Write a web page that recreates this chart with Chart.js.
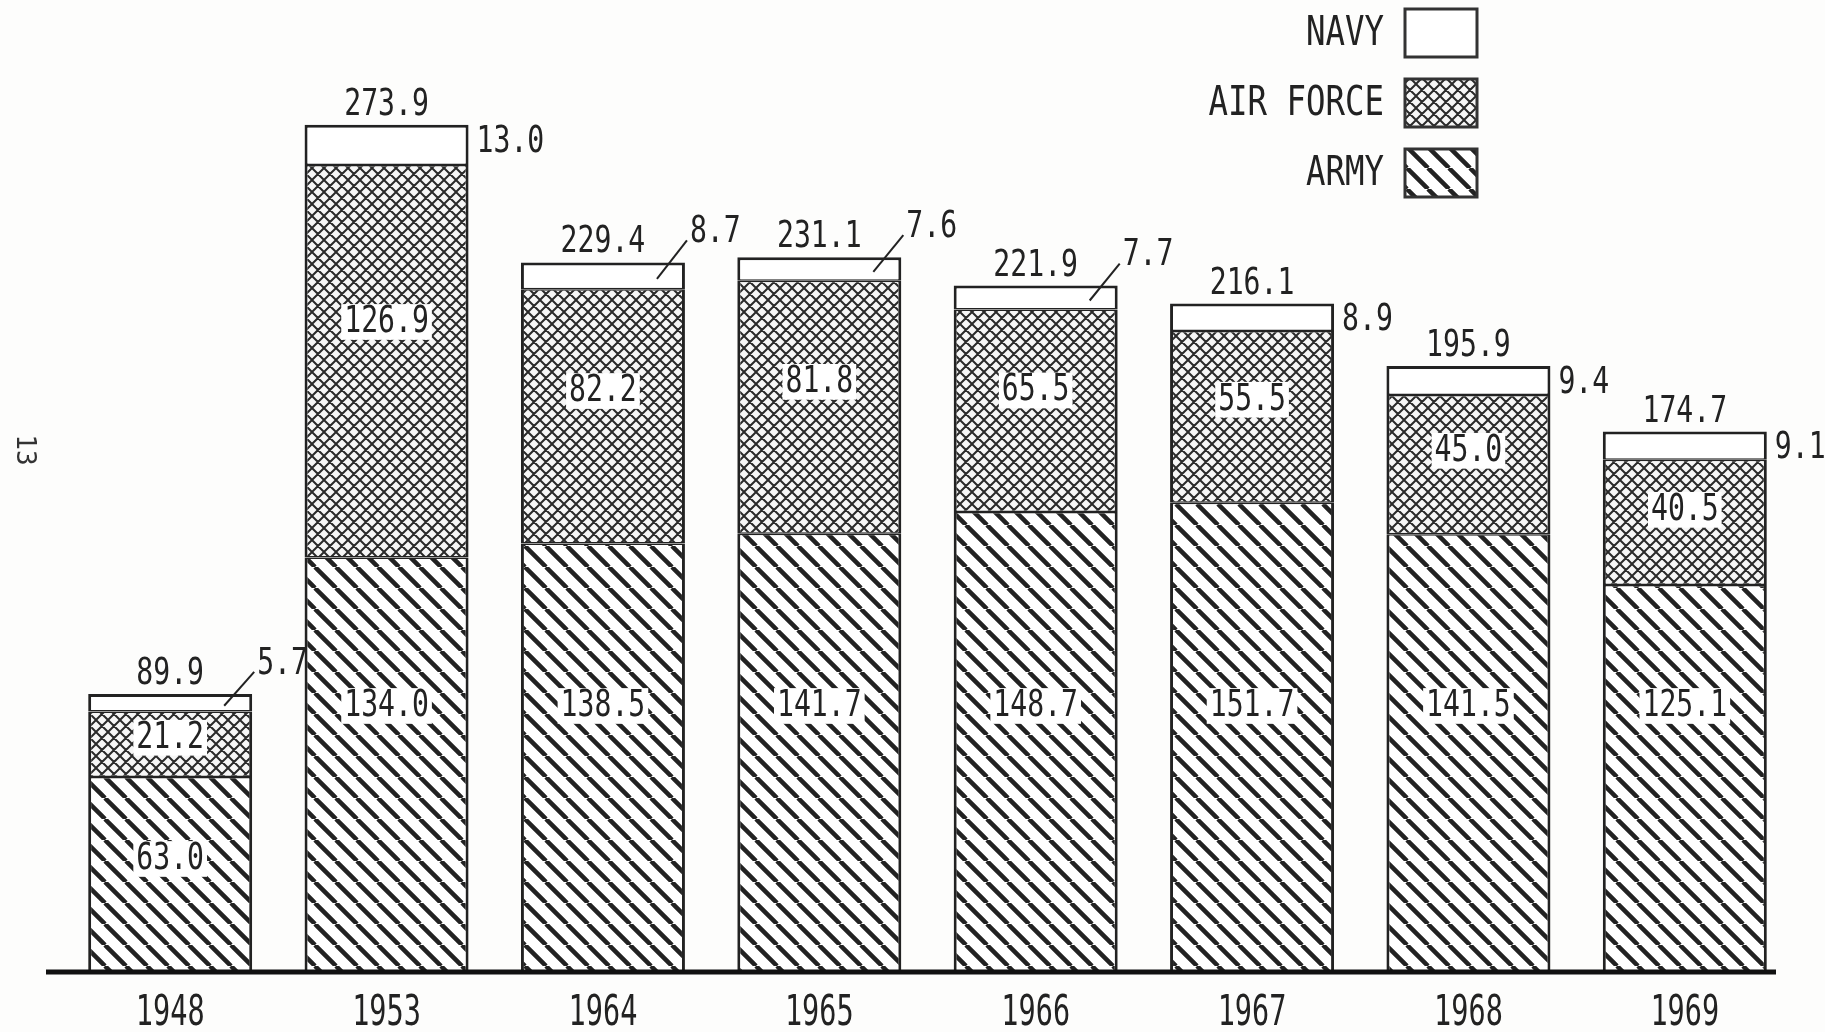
<!DOCTYPE html>
<html>
<head>
<meta charset="utf-8">
<script src="https://cdn.jsdelivr.net/npm/chart.js@4.4.0/dist/chart.umd.min.js"></script>
<style>
  body { margin: 0; background: #fdfdfc; }
  #wrap { width: 1825px; height: 1032px; }
</style>
</head>
<body>
<div id="wrap"><canvas id="chart" width="1825" height="1032"></canvas></div>
<script>
// values (millions)
const years = ['1948', '1953', '1964', '1965', '1966', '1967', '1968', '1969'];
const army = [63.0, 134.0, 138.5, 141.7, 148.7, 151.7, 141.5, 125.1];
const airForce = [21.2, 126.9, 82.2, 81.8, 65.5, 55.5, 45.0, 40.5];
const navy = [5.7, 13.0, 8.7, 7.6, 7.7, 8.9, 9.4, 9.1];
const totals = [89.9, 273.9, 229.4, 231.1, 221.9, 216.1, 195.9, 174.7];

const ink = '#222';
const monoFont = '"DejaVu Sans Mono", "Liberation Mono", monospace';

/* hatch patterns */
function makeStripes(p, lw) {
    const c = document.createElement('canvas');
    c.width = p; c.height = p;
    const g = c.getContext('2d');
    g.fillStyle = '#fff';
    g.fillRect(0, 0, p, p);
    g.strokeStyle = ink;
    g.lineWidth = lw;
    g.beginPath();
    [-p, 0, p].forEach(k => {
        g.moveTo(k, 0);
        g.lineTo(k + p, p);
    });
    g.stroke();
    return g.createPattern(c, 'repeat');
}

function makeCross(p, lw) {
    const c = document.createElement('canvas');
    c.width = p; c.height = p;
    const g = c.getContext('2d');
    g.fillStyle = '#f6f6f6';
    g.fillRect(0, 0, p, p);
    g.strokeStyle = '#2a2a2a';
    g.lineWidth = lw;
    g.beginPath();
    [-p, 0, p].forEach(k => {
        g.moveTo(k, 0);
        g.lineTo(k + p, p);
        g.moveTo(k + p, 0);
        g.lineTo(k, p);
    });
    g.stroke();
    return g.createPattern(c, 'repeat');
}

const armyFill = makeStripes(21, 4.5);
const airFill = makeCross(12, 2);
const navyFill = '#ffffff';

// draw condensed mono text
function monoText(ctx, text, x, y, size, sx, align, baseline) {
    ctx.save();
    ctx.translate(x, y);
    ctx.scale(sx, 1);
    ctx.font = size + 'px ' + monoFont;
    ctx.fillStyle = ink;
    ctx.textAlign = align;
    ctx.textBaseline = baseline;
    ctx.fillText(text, 0, 0);
    ctx.restore();
}

function boxedText(ctx, text, x, y, size, sx) {
    ctx.save();
    ctx.font = size + 'px ' + monoFont;
    const w = ctx.measureText(text).width * sx;
    ctx.fillStyle = '#fff';
    ctx.fillRect(x - w / 2 - 3, y - size * 0.47, w + 6, size * 0.94);
    ctx.restore();
    monoText(ctx, text, x, y, size, sx, 'center', 'middle');
}

const labelsPlugin = {
    id: 'labels',
    afterDatasetsDraw(chart) {
        const ctx = chart.ctx;
        const yScale = chart.scales.y;
        const xScale = chart.scales.x;
        const armyMeta = chart.getDatasetMeta(0);
        const airMeta = chart.getDatasetMeta(1);
        const navyMeta = chart.getDatasetMeta(2);

        // baseline
        const y0 = yScale.getPixelForValue(0);
        ctx.save();
        ctx.strokeStyle = '#111';
        ctx.lineWidth = 5;
        ctx.beginPath();
        ctx.moveTo(46, y0);
        ctx.lineTo(1776, y0);
        ctx.stroke();
        ctx.restore();

        years.forEach((yr, i) => {
            const nb = navyMeta.data[i];
            const right = nb.x + nb.width / 2;
            const top = nb.y;

            // total above the bar
            monoText(ctx, totals[i].toFixed(1), nb.x, top - 10, 38, 0.74, 'center', 'alphabetic');

            // army label
            const armyY = army[i] > 120 ? 86 : army[i] * 0.58;
            boxedText(ctx, army[i].toFixed(1), armyMeta.data[i].x, yScale.getPixelForValue(armyY), 38, 0.74);

            // air force label
            const airY = army[i] + airForce[i] * 0.6;
            boxedText(ctx, airForce[i].toFixed(1), airMeta.data[i].x, yScale.getPixelForValue(airY), 38, 0.74);

            // navy label, with a leader line when the next bar is about as tall
            const next = totals[i + 1];
            if (next !== undefined && next > totals[i] - 10) {
                const midY = (nb.y + nb.base) / 2;
                ctx.save();
                ctx.strokeStyle = ink;
                ctx.lineWidth = 2;
                ctx.beginPath();
                ctx.moveTo(right - 28, midY + 3);
                ctx.lineTo(right + 2, top - 22);
                ctx.stroke();
                ctx.restore();
                monoText(ctx, navy[i].toFixed(1), right + 5, top - 30, 38, 0.74, 'left', 'middle');
            } else {
                monoText(ctx, navy[i].toFixed(1), right + 8, top + 17, 38, 0.74, 'left', 'middle');
            }

            // year under the axis
            monoText(ctx, yr, xScale.getPixelForValue(i), 1014, 42, 0.68, 'center', 'middle');
        });

        // legend, top right
        const legendItems = [2, 1, 0];
        legendItems.forEach((d, k) => {
            const ds = chart.data.datasets[d];
            const bx = 1405, by = 9 + k * 70, bw = 72, bh = 48;
            ctx.save();
            ctx.fillStyle = ds.backgroundColor;
            ctx.fillRect(bx, by, bw, bh);
            ctx.strokeStyle = '#333';
            ctx.lineWidth = 3;
            ctx.strokeRect(bx, by, bw, bh);
            ctx.restore();
            monoText(ctx, ds.label, 1384, by + bh / 2 + 1, 41, 0.79, 'right', 'middle');
        });

        // page number at the left margin
        ctx.save();
        ctx.translate(24, 450);
        ctx.rotate(Math.PI / 2);
        ctx.font = '26px ' + monoFont;
        ctx.fillStyle = '#333';
        ctx.textAlign = 'center';
        ctx.textBaseline = 'middle';
        ctx.fillText('13', 0, 0);
        ctx.restore();
    }
};

const ctx = document.getElementById('chart').getContext('2d');
const chart = new Chart(ctx, {
    type: 'bar',
    data: {
        labels: years,
        datasets: [
            {
                label: 'ARMY',
                data: army,
                backgroundColor: armyFill,
                borderColor: ink,
                borderWidth: { top: 1.5, left: 3, right: 3, bottom: 0 },
                borderSkipped: false
            },
            {
                label: 'AIR FORCE',
                data: airForce,
                backgroundColor: airFill,
                borderColor: ink,
                borderWidth: { top: 1.5, left: 3, right: 3, bottom: 1.5 },
                borderSkipped: false
            },
            {
                label: 'NAVY',
                data: navy,
                backgroundColor: navyFill,
                borderColor: ink,
                borderWidth: { top: 3, left: 3, right: 3, bottom: 1.5 },
                borderSkipped: false
            }
        ]
    },
    options: {
        responsive: false,
        animation: false,
        layout: {
            padding: { top: 44, left: 62, right: 32, bottom: 60 }
        },
        plugins: {
            legend: { display: false },
            tooltip: { enabled: false }
        },
        datasets: {
            bar: {
                categoryPercentage: 1,
                barPercentage: 0.758
            }
        },
        scales: {
            x: {
                stacked: true,
                grid: { display: false, drawTicks: false },
                ticks: { display: false },
                border: { display: false }
            },
            y: {
                stacked: true,
                display: false,
                min: 0,
                max: 300
            }
        }
    },
    plugins: [labelsPlugin]
});
</script>
</body>
</html>
